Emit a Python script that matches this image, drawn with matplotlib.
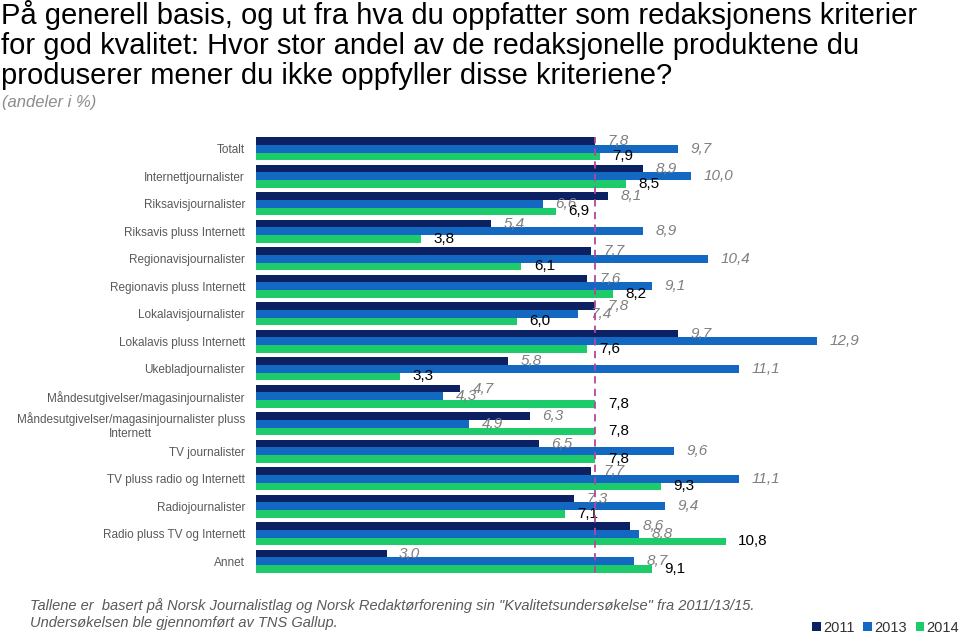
import matplotlib
matplotlib.use("Agg")
import matplotlib.pyplot as plt
import numpy as np

plt.rcParams['font.family'] = ['Liberation Sans', 'DejaVu Sans']

categories = [
    "Totalt",
    "Internettjournalister",
    "Riksavisjournalister",
    "Riksavis pluss Internett",
    "Regionavisjournalister",
    "Regionavis pluss Internett",
    "Lokalavisjournalister",
    "Lokalavis pluss Internett",
    "Ukebladjournalister",
    "Måndesutgivelser/magasinjournalister",
    "Måndesutgivelser/magasinjournalister pluss\nInternett",
    "TV journalister",
    "TV pluss radio og Internett",
    "Radiojournalister",
    "Radio pluss TV og Internett",
    "Annet",
]
years = ["2011", "2013", "2014"]
v2011 = [7.8, 8.9, 8.1, 5.4, 7.7, 7.6, 7.8, 9.7, 5.8, 4.7, 6.3, 6.5, 7.7, 7.3, 8.6, 3.0]
v2013 = [9.7, 10.0, 6.6, 8.9, 10.4, 9.1, 7.4, 12.9, 11.1, 4.3, 4.9, 9.6, 11.1, 9.4, 8.8, 8.7]
v2014 = [7.9, 8.5, 6.9, 3.8, 6.1, 8.2, 6.0, 7.6, 3.3, 7.8, 7.8, 7.8, 9.3, 7.1, 10.8, 9.1]
reference_value = 7.8

colors = ['#0B2161', '#1368C2', '#1ECB6A']
series = [v2011, v2013, v2014]

fig = plt.figure(figsize=(9.59, 6.35), dpi=100)
ax = fig.add_axes([256/959, 1-575/635, (952-256)/959, (575-135)/635])

y = np.arange(len(categories))
h = 0.28
offsets = [-h, 0, h]
for vals, col, off, yr in zip(series, colors, offsets, years):
    ax.barh(y + off, vals, height=h, color=col, label=yr)

for i in range(len(categories)):
    for k, (vals, off) in enumerate(zip(series, offsets)):
        v = vals[i]
        txt = f"{v:.1f}".replace('.', ',')
        if k < 2:
            ax.annotate(txt, (v, y[i] + off), xytext=(9, 0), textcoords='offset points',
                        va='center', ha='left', fontsize=11, color='#7F7F7F', style='italic')
        else:
            ax.annotate(txt, (v, y[i] + off), xytext=(9, 0), textcoords='offset points',
                        va='center', ha='left', fontsize=11, color='black')

ax.axvline(reference_value, color='#B0489E', linestyle=(0, (4, 3)), linewidth=1.3,
           ymin=0.005, ymax=0.995, zorder=3)

ax.set_xlim(0, 16)
ax.set_ylim(len(categories) - 0.5, -0.5)
ax.set_yticks(y)
ax.set_yticklabels(categories, fontsize=8.5, color='#595959')
for t in ax.get_yticklabels():
    t.set_multialignment('center')
ax.tick_params(axis='y', length=0, pad=8)
ax.set_xticks([])
for s in ax.spines.values():
    s.set_visible(False)

fig.text(0.001, 1 - 0/635,
         "På generell basis, og ut fra hva du oppfatter som redaksjonens kriterier\n"
         "for god kvalitet: Hvor stor andel av de redaksjonelle produktene du\n"
         "produserer mener du ikke oppfyller disse kriteriene?",
         fontsize=21, color='black', va='top', ha='left', linespacing=1.1)
fig.text(0.002, 1 - 103/635, "(andeler i %)", fontsize=12, color='#8C8C8C',
         style='italic', va='center', ha='left')

fig.text(30/959, 1 - 606/635,
         'Tallene er  basert på Norsk Journalistlag og Norsk Redaktørforening sin "Kvalitetsundersøkelse" fra 2011/13/15.',
         fontsize=10.5, color='#595959', style='italic', va='center', ha='left')
fig.text(30/959, 1 - 623/635, "Undersøkelsen ble gjennomført av TNS Gallup.",
         fontsize=10.5, color='#595959', style='italic', va='center', ha='left')

leg = fig.legend(loc='lower right', bbox_to_anchor=(1.014, -0.02), ncol=3, frameon=False,
                 fontsize=10.5, handlelength=0.6, handleheight=0.6, handletextpad=0.15,
                 columnspacing=0.6)
for t in leg.get_texts():
    t.set_color('#333333')

fig.savefig("out.png", dpi=100)
